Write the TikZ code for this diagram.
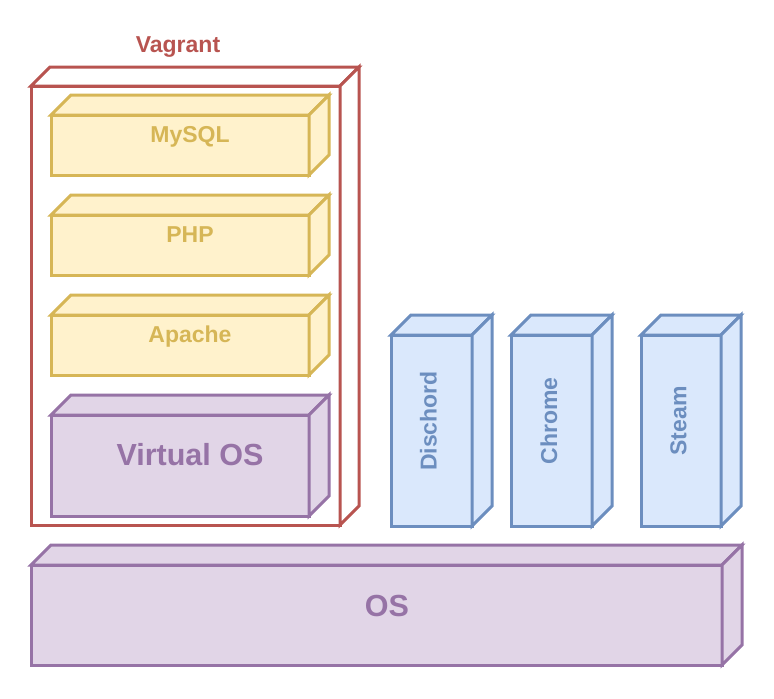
\documentclass[tikz,border=0pt]{standalone}
\usepackage{fontspec}
\setmainfont{Liberation Sans}
\definecolor{yfill}{HTML}{FFF2CC}
\definecolor{ydraw}{HTML}{D6B656}
\definecolor{bfill}{HTML}{DAE8FC}
\definecolor{bdraw}{HTML}{6C8EBF}
\definecolor{pfill}{HTML}{E1D5E7}
\definecolor{pdraw}{HTML}{9673A6}
\definecolor{rdraw}{HTML}{B85450}
\newcommand{\drawcube}[7]{%
  \filldraw[fill=#6,draw=#7,line width=3pt,line join=miter]
    (#1,#2) rectangle (#3,#4);
  \filldraw[fill=#6,draw=#7,line width=3pt,line join=miter]
    (#1,#2) -- ({#1+#5},{#2-#5}) -- ({#3+#5},{#2-#5}) -- (#3,#2) -- cycle;
  \filldraw[fill=#6,draw=#7,line width=3pt,line join=miter]
    (#3,#2) -- ({#3+#5},{#2-#5}) -- ({#3+#5},{#4-#5}) -- (#3,#4) -- cycle;
}
\tikzset{
  lbl/.style={inner sep=0pt, font=\bfseries\fontsize{23}{27}\selectfont},
  biglbl/.style={inner sep=0pt, font=\bfseries\fontsize{30.5}{35}\selectfont},
}
\begin{document}
\begin{tikzpicture}[x=1pt,y=-1pt]
\useasboundingbox (0,0) rectangle (774,699);
% Vagrant container
\drawcube{31}{86}{340}{525}{19}{white}{rdraw}
\node[lbl, text=rdraw, anchor=base] (vagrant) at (178,52) {Vagrant};
% stack inside
\drawcube{51}{115}{309}{175}{20}{yfill}{ydraw}
\node[lbl, text=ydraw, anchor=base] (mysql) at (190,142) {MySQL};
\drawcube{51}{215}{309}{275}{20}{yfill}{ydraw}
\node[lbl, text=ydraw, anchor=base] (php) at (190,242) {PHP};
\drawcube{51}{315}{309}{375}{20}{yfill}{ydraw}
\node[lbl, text=ydraw, anchor=base] (apache) at (190,342) {Apache};
\drawcube{51}{415}{309}{516}{20}{pfill}{pdraw}
\node[biglbl, text=pdraw, anchor=base] (vos) at (190,465) {Virtual OS};
% apps
\drawcube{391}{335}{472}{526}{20}{bfill}{bdraw}
\node[lbl, text=bdraw, rotate=90] (dischord) at (428.5,421) {Dischord};
\drawcube{511}{335}{592}{526}{20}{bfill}{bdraw}
\node[lbl, text=bdraw, rotate=90] (chrome) at (549,421) {Chrome};
\drawcube{641}{335}{721}{526}{20}{bfill}{bdraw}
\node[lbl, text=bdraw, rotate=90] (steam) at (678.5,421) {Steam};
% OS
\drawcube{31}{565}{722}{665}{20}{pfill}{pdraw}
\node[biglbl, text=pdraw, anchor=base] (os) at (387,616) {OS};
\end{tikzpicture}
\end{document}
